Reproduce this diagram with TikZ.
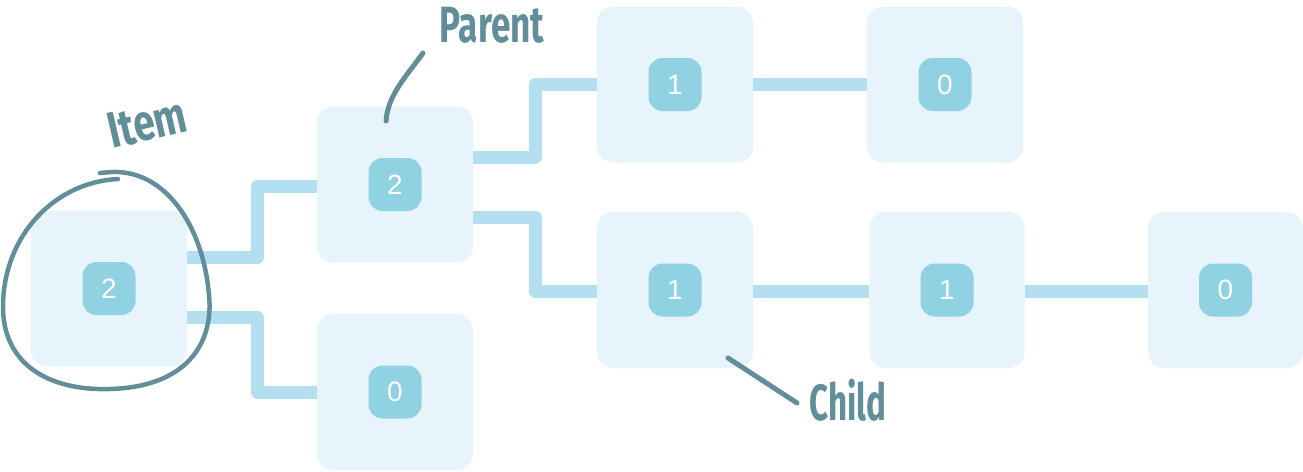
\documentclass[tikz,border=0pt]{standalone}
\usepackage{fontspec}
\setmainfont{Liberation Sans}
\newfontfamily\hand{Fira Sans}
\usetikzlibrary{backgrounds}
\definecolor{boxfill}{HTML}{E8F4FB}
\definecolor{badgefill}{HTML}{90D2E2}
\definecolor{connc}{HTML}{B3DFF1}
\definecolor{inkc}{HTML}{628E99}
\tikzset{
  nbox/.style={rectangle, rounded corners=16pt, fill=boxfill, minimum width=156pt, minimum height=156pt, inner sep=0pt},
  badge/.style={rectangle, rounded corners=14pt, fill=badgefill, minimum width=53pt, minimum height=53pt, inner sep=0pt, text=white, font=\fontsize{28}{28}\selectfont},
  conn/.style={connc, line width=13pt, line join=round},
  ink/.style={inkc, line width=5pt, line cap=round},
  handlabel/.style={text=inkc, inner sep=0pt, font=\hand\bfseries\fontsize{51}{51}\selectfont}
}
\begin{document}
\begin{tikzpicture}[x=1pt,y=-1pt]
\useasboundingbox (0,0) rectangle (1303,471);
% boxes
\node[nbox] (item) at (109,288.5) {};
\node[nbox] (parent) at (395,184.5) {};
\node[nbox] (zero1) at (395,392) {};
\node[nbox] (t1) at (675,84.5) {};
\node[nbox] (t0) at (945,84.5) {};
\node[nbox] (m1) at (675,290) {};
\node[nbox, minimum width=155pt] (m1b) at (947,290) {};
\node[nbox, minimum width=155pt] (m0) at (1225.5,290) {};
% badges
\node[badge] (bitem) at (item) {2};
\node[badge] (bparent) at (parent) {2};
\node[badge] (bzero1) at (zero1) {0};
\node[badge] (bt1) at (t1) {1};
\node[badge] (bt0) at (t0) {0};
\node[badge] (bm1) at (m1) {1};
\node[badge] (bm1b) at (m1b) {1};
\node[badge] (bm0) at (m0) {0};
% connectors
\begin{pgfonlayer}{background}
\draw[conn] (item.east |- 0,257.5) -| (257,186) -- (parent.west |- 0,186);
\draw[conn] (item.east |- 0,317.5) -| (257,392) -- (zero1.west);
\draw[conn] (parent.east |- 0,157) -| (535,84) -- (t1.west |- 0,84);
\draw[conn] (parent.east |- 0,217) -| (535,291) -- (m1.west |- 0,291);
\draw[conn] (t1.east |- 0,84) -- (t0.west |- 0,84);
\draw[conn] (m1.east |- 0,291) -- (m1b.west |- 0,291);
\draw[conn] (m1b.east |- 0,291) -- (m0.west |- 0,291);
\end{pgfonlayer}
% annotations
\node[handlabel, rotate=13] (litem) at (147,123) {\scalebox{0.76}[1]{Item}};
\node[handlabel] (lparent) at (492,25) {\scalebox{0.69}[1]{Parent}};
\node[handlabel] (lchild) at (848,400) {\scalebox{0.65}[1]{Child}};
\coordinate (pa) at (386,121);
\coordinate (pb) at (423,53);
\draw[ink] (pa) .. controls (388,95) and (405,78) .. (pb);
\coordinate (ca) at (728,358);
\coordinate (cb) at (797,403);
\draw[ink] (ca) -- (cb);
\coordinate (ring) at (118,179);
\draw[inkc, line width=4.5pt, line cap=round] (ring)
  .. controls (55,182) and (4,235) .. (3,305)
  .. controls (2,365) and (50,391) .. (110,389)
  .. controls (185,387) and (214,345) .. (209,295)
  .. controls (203,225) and (165,170) .. (112,172)
  -- (100,173);
\end{tikzpicture}
\end{document}
